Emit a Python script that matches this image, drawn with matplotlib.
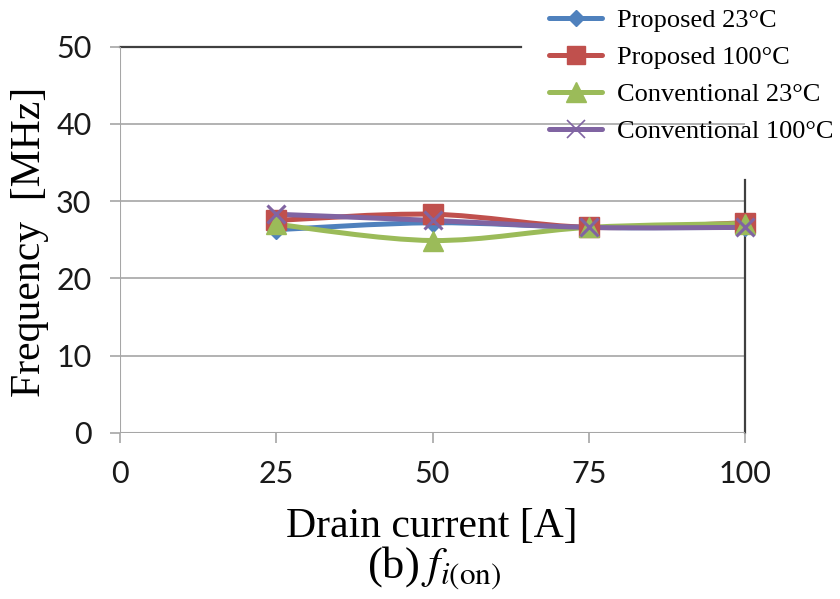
import numpy as np
import matplotlib
matplotlib.use("Agg")
import matplotlib.pyplot as plt
from matplotlib.path import Path
from matplotlib.patches import PathPatch
from matplotlib.lines import Line2D

plt.rcParams['mathtext.fontset'] = 'stix'

current = [25, 50, 75, 100]
prop_23 = [26.3, 27.2, 26.6, 26.6]
prop_100 = [27.5, 28.3, 26.6, 27.2]
conv_23 = [27.0, 24.9, 26.6, 27.1]
conv_100 = [28.3, 27.5, 26.6, 26.6]
labels = ["Proposed 23°C", "Proposed 100°C", "Conventional 23°C", "Conventional 100°C"]
xticks = [0, 25, 50, 75, 100]
yticks = [0, 10, 20, 30, 40, 50]

colors = ["#4F81BD", "#C0504D", "#9BBB59", "#8064A2"]
markers = ["D", "s", "^", "x"]
msizes = [9, 14, 15, 13]

fig = plt.figure(figsize=(8.4, 5.99), dpi=100)
L, R, T, B = 120, 745, 46.5, 433
ax = fig.add_axes([L/840, 1-B/599, (R-L)/840, (B-T)/599])
ax.set_xlim(0, 100)
ax.set_ylim(0, 50)

def smooth_path(xs, ys):
    pts = np.column_stack([xs, ys]).astype(float)
    n = len(pts)
    verts = [pts[0]]
    codes = [Path.MOVETO]
    for i in range(n - 1):
        p0 = pts[i - 1] if i > 0 else pts[i]
        p1 = pts[i]
        p2 = pts[i + 1]
        p3 = pts[i + 2] if i + 2 < n else pts[i + 1]
        c1 = p1 + (p2 - p0) / 6.0
        c2 = p2 - (p3 - p1) / 6.0
        verts += [c1, c2, p2]
        codes += [Path.CURVE4] * 3
    return Path(verts, codes)

series = [prop_23, prop_100, conv_23, conv_100]
handles = []
for s, c, m, ms, lab in zip(series, colors, markers, msizes, labels):
    patch = PathPatch(smooth_path(current, s), facecolor='none', edgecolor=c,
                      lw=3.6, zorder=3, capstyle='round', joinstyle='round')
    ax.add_patch(patch)
    mew = 2.2 if m == 'x' else 1
    ax.plot(current, s, linestyle='none', marker=m, markersize=ms, color=c,
            markeredgewidth=mew, zorder=4, clip_on=False)
    handles.append(Line2D([], [], color=c, lw=3.6, marker=m,
                          markersize=ms * 0.95, markeredgewidth=(1.2 if m == 'x' else 1),
                          solid_capstyle='round'))

for sp in ax.spines.values():
    sp.set_visible(False)

grid_c = "#A6A6A6"
for y in yticks[1:-1]:
    ax.axhline(y, color=grid_c, lw=1.2, zorder=1)
# top border (partially hidden by legend) and right border
ax.plot([0, (521 - L) / (R - L)], [1, 1], transform=ax.transAxes, color="#404040",
        lw=1.6, clip_on=False, zorder=1)
ax.plot([1, 1], [0, (B - 180) / (B - T)], transform=ax.transAxes, color="#404040",
        lw=1.6, clip_on=False, zorder=1)
# axis lines
ax.axhline(0, color=grid_c, lw=1.5, zorder=2)
ax.axvline(0, color=grid_c, lw=1.5, zorder=2)

ax.set_xticks(xticks)
ax.set_yticks(yticks)
ax.tick_params(axis='both', direction='out', length=7.5, width=1.2, color=grid_c,
               labelsize=22, pad=13)
ax.tick_params(axis='x', pad=12)
for lab in ax.get_xticklabels() + ax.get_yticklabels():
    lab.set_fontfamily('Lato')
    lab.set_color('#1a1a1a')

fig.text(432/840, 1 - 537/599, "Drain current [A]", ha='center', va='baseline',
         fontsize=30, fontfamily='Liberation Serif')
fig.text(434/840, 1 - 579/599, r"(b)$\;f_{i\mathrm{(on)}}$", ha='center', va='baseline',
         fontsize=32, fontfamily='Liberation Serif')
fig.text(30/840, 1 - 242/599, "Frequency  [MHz]", ha='center', va='center', rotation=90,
         fontsize=30, fontfamily='Liberation Serif')

leg = fig.legend(handles=handles, labels=labels, loc='upper left',
                 bbox_to_anchor=(544/840, 1 - 3/599), frameon=False,
                 prop={'family': 'Liberation Serif', 'size': 19},
                 handlelength=2.0, handletextpad=0.55, labelspacing=0.52,
                 borderaxespad=0, borderpad=0.2)

fig.savefig("out.png", dpi=100)
